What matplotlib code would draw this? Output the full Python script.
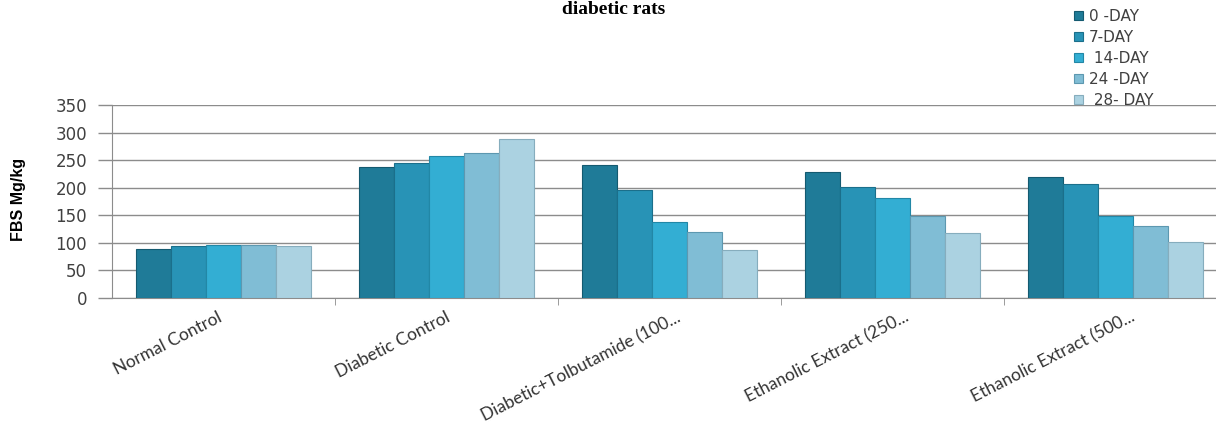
import matplotlib
matplotlib.use("Agg")
import matplotlib.pyplot as plt
import matplotlib.transforms as mtransforms
import numpy as np

groups = ['Normal Control', 'Diabetic Control', 'Diabetic+Tolbutamide (100...',
          'Ethanolic Extract (250...', 'Ethanolic Extract (500...']
days = ['0 -DAY', '7-DAY', ' 14-DAY', '24 -DAY', ' 28- DAY']
day0 = [88, 238, 241, 229, 220]
day7 = [94, 244, 196, 202, 207]
day14 = [97, 258, 138, 182, 149]
day24 = [96, 263, 120, 149, 131]
day28 = [94, 289, 87, 117, 102]
colors = ['#1f7b98', '#2893b6', '#33aed3', '#80bdd5', '#abd2e1']
edges = ['#145a70', '#1b6f8b', '#2287a6', '#5d98b0', '#86adbd']

series = [day0, day7, day14, day24, day28]

fig = plt.figure(figsize=(12.16, 4.32), dpi=100)
ax = fig.add_axes([112 / 1216, 1 - 298 / 432, (1216 - 112) / 1216, (298 - 105) / 432])

x = np.arange(len(groups))
width = 0.157
for i, vals in enumerate(series):
    ax.bar(x + (i - 2) * width, vals, width, color=colors[i], edgecolor=edges[i],
           linewidth=0.8, label=days[i], zorder=3)

ax.set_xlim(-0.5, 4.45)
ax.set_ylim(0, 350)
ax.set_yticks(range(0, 351, 50))
ax.yaxis.grid(True, color='#8c8c8c', linewidth=1.0, zorder=0)
for s in ['top', 'right']:
    ax.spines[s].set_visible(False)
ax.spines['left'].set_color('#8c8c8c')
ax.spines['bottom'].set_color('#8c8c8c')
ax.tick_params(axis='y', colors='#8c8c8c', length=10, width=1, pad=8,
               labelcolor='#404040', labelsize=12)

# category boundary ticks
ax.set_xticks(np.arange(0.5, 4.5, 1), minor=True)
ax.tick_params(axis='x', which='minor', length=5, color='#8c8c8c')
ax.set_xticks(x)
ax.set_xticklabels(groups, rotation=27, ha='right', rotation_mode='anchor',
                   fontsize=12.5, family=['Lato', 'DejaVu Sans'], color='#333333')
ax.tick_params(axis='x', which='major', length=0, pad=8)
# excel-like placement of the rotated labels (pixels)
shifts = [-6, -1, 6, 12, 15]
for lab, sh in zip(ax.get_xticklabels(), shifts):
    off = mtransforms.ScaledTranslation(sh / 100, 0, fig.dpi_scale_trans)
    lab.set_transform(lab.get_transform() + off)

ax.set_ylabel('FBS Mg/kg', fontsize=11.5, fontweight='bold',
              family=['Liberation Sans Narrow', 'Liberation Sans'])
ax.yaxis.set_label_coords(-0.078, 0.51)

fig.text(0.505, 1 - 1 / 432, 'diabetic rats', ha='center', va='top',
         fontsize=14, fontweight='bold', family='Liberation Serif')

leg = ax.legend(loc='upper left', bbox_to_anchor=(1066 / 1216, 1 - 1 / 432),
                bbox_transform=fig.transFigure, frameon=False, fontsize=11,
                handlelength=0.6, handleheight=0.55, handletextpad=0.4,
                labelspacing=0.4, borderpad=0)
for t in leg.get_texts():
    t.set_color('#404040')

fig.savefig('out.png', dpi=100)
